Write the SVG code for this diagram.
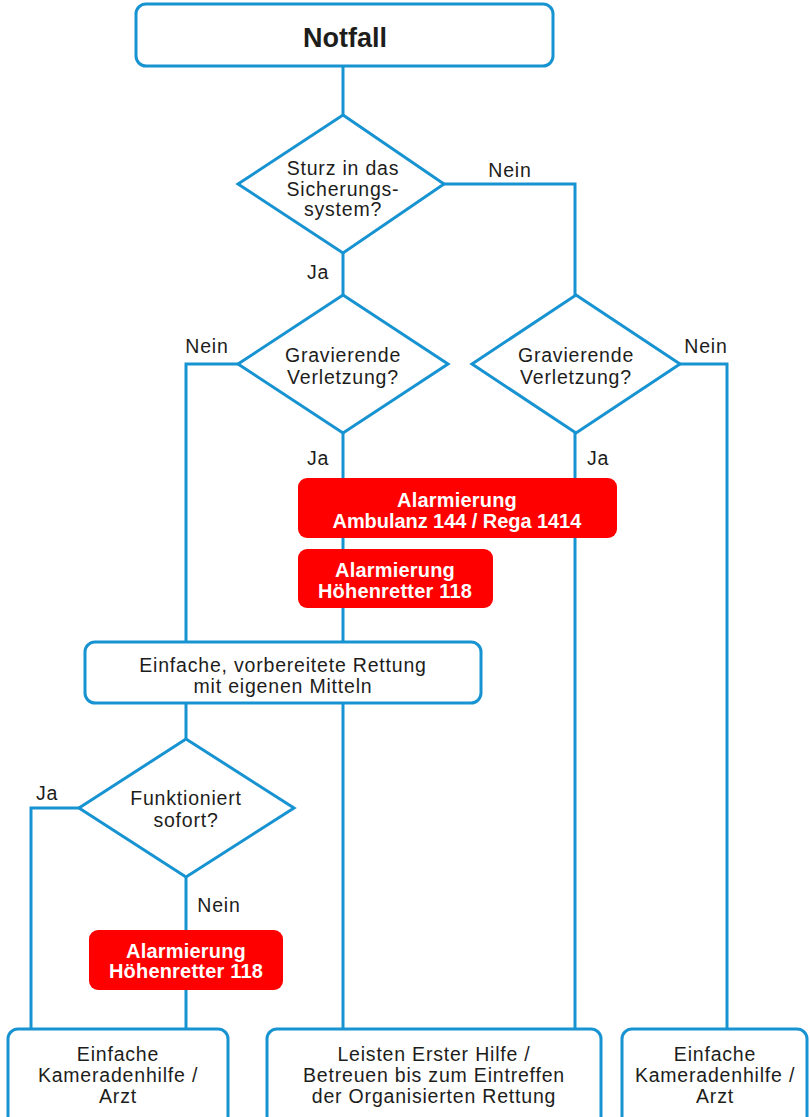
<svg xmlns="http://www.w3.org/2000/svg" width="810" height="1117" viewBox="0 0 810 1117">
<style>
.box{fill:#fff;stroke:#1793d1;stroke-width:3}
.dia{fill:#fff;stroke:#1793d1;stroke-width:3;stroke-linejoin:miter}
.red{fill:#ff0000;stroke:none}
.con{fill:none;stroke:#1793d1;stroke-width:3}
.t{font-family:"Liberation Sans",Arial,sans-serif;font-size:19.5px;fill:#1d1d1b;text-anchor:middle;letter-spacing:0.8px}
.lbl{font-family:"Liberation Sans",Arial,sans-serif;font-size:19.5px;fill:#1d1d1b;text-anchor:middle;letter-spacing:0.8px}
.w{font-family:"Liberation Sans",Arial,sans-serif;font-size:20px;font-weight:bold;fill:#fff;text-anchor:middle;letter-spacing:0.2px}
.h{font-family:"Liberation Sans",Arial,sans-serif;font-size:27px;font-weight:bold;fill:#1d1d1b;text-anchor:middle}
</style>
<rect width="810" height="1117" fill="#fff"/>
<g id="connectors">
<polyline class="con" points="343,66 343,115"/>
<polyline class="con" points="343,253 343,295"/>
<polyline class="con" points="444,184 575,184 575,295"/>
<polyline class="con" points="238,364 186,364 186,642"/>
<polyline class="con" points="680,364 727,364 727,1029"/>
<polyline class="con" points="343,433 343,478"/>
<polyline class="con" points="575,433 575,478"/>
<polyline class="con" points="575,538 575,1029"/>
<polyline class="con" points="343,538 343,549"/>
<polyline class="con" points="343,608 343,642"/>
<polyline class="con" points="343,703 343,1029"/>
<polyline class="con" points="186,703 186,739"/>
<polyline class="con" points="79,808 31,808 31,1029"/>
<polyline class="con" points="186,877 186,930"/>
<polyline class="con" points="186,990 186,1029"/>
<text class="lbl" x="510" y="177">Nein</text>
<text class="lbl" x="318" y="279">Ja</text>
<text class="lbl" x="207" y="353">Nein</text>
<text class="lbl" x="706" y="353">Nein</text>
<text class="lbl" x="318" y="465">Ja</text>
<text class="lbl" x="598" y="465">Ja</text>
<text class="lbl" x="47" y="800">Ja</text>
<text class="lbl" x="219" y="912">Nein</text>
</g>
<g id="notfall">
<rect class="box" x="136" y="4" width="417" height="62" rx="10"/>
<text class="h" x="345" y="47">Notfall</text>
</g>
<g id="sturz">
<polygon class="dia" points="343,115 444,184 343,253 238,184"/>
<text class="t" x="343" y="175">Sturz in das</text>
<text class="t" x="343" y="196">Sicherungs-</text>
<text class="t" x="343" y="216">system?</text>
</g>
<g id="verletzung-links">
<polygon class="dia" points="343,295 448,364 343,433 238,364"/>
<text class="t" x="343" y="362">Gravierende</text>
<text class="t" x="343" y="384">Verletzung?</text>
</g>
<g id="verletzung-rechts">
<polygon class="dia" points="576,295 680,364 576,433 472,364"/>
<text class="t" x="576" y="362">Gravierende</text>
<text class="t" x="576" y="384">Verletzung?</text>
</g>
<g id="alarm-ambulanz">
<rect class="red" x="298" y="478" width="319" height="60" rx="9"/>
<text class="w" x="457" y="507">Alarmierung</text>
<text class="w" x="457" y="528" textLength="249">Ambulanz 144 / Rega 1414</text>
</g>
<g id="alarm-hoehenretter-1">
<rect class="red" x="298" y="549" width="195" height="59" rx="9"/>
<text class="w" x="395" y="577">Alarmierung</text>
<text class="w" x="395" y="598">Höhenretter 118</text>
</g>
<g id="rettung">
<rect class="box" x="85" y="642" width="396" height="61" rx="10"/>
<text class="t" x="283" y="672">Einfache, vorbereitete Rettung</text>
<text class="t" x="283" y="693">mit eigenen Mitteln</text>
</g>
<g id="funktioniert">
<polygon class="dia" points="186,739 294,808 186,877 79,808"/>
<text class="t" x="186" y="805">Funktioniert</text>
<text class="t" x="186" y="827">sofort?</text>
</g>
<g id="alarm-hoehenretter-2">
<rect class="red" x="89" y="930" width="194" height="60" rx="9"/>
<text class="w" x="186" y="958">Alarmierung</text>
<text class="w" x="186" y="978">Höhenretter 118</text>
</g>
<g id="kameradenhilfe-links">
<rect class="box" x="8" y="1029" width="220" height="110" rx="10"/>
<text class="t" x="118" y="1061">Einfache</text>
<text class="t" x="118" y="1082">Kameradenhilfe /</text>
<text class="t" x="118" y="1103">Arzt</text>
</g>
<g id="erste-hilfe">
<rect class="box" x="267" y="1029" width="334" height="110" rx="10"/>
<text class="t" x="434" y="1061">Leisten Erster Hilfe /</text>
<text class="t" x="434" y="1082">Betreuen bis zum Eintreffen</text>
<text class="t" x="434" y="1103">der Organisierten Rettung</text>
</g>
<g id="kameradenhilfe-rechts">
<rect class="box" x="622" y="1029" width="185" height="110" rx="10"/>
<text class="t" x="715" y="1061">Einfache</text>
<text class="t" x="715" y="1082">Kameradenhilfe /</text>
<text class="t" x="715" y="1103">Arzt</text>
</g>
</svg>
